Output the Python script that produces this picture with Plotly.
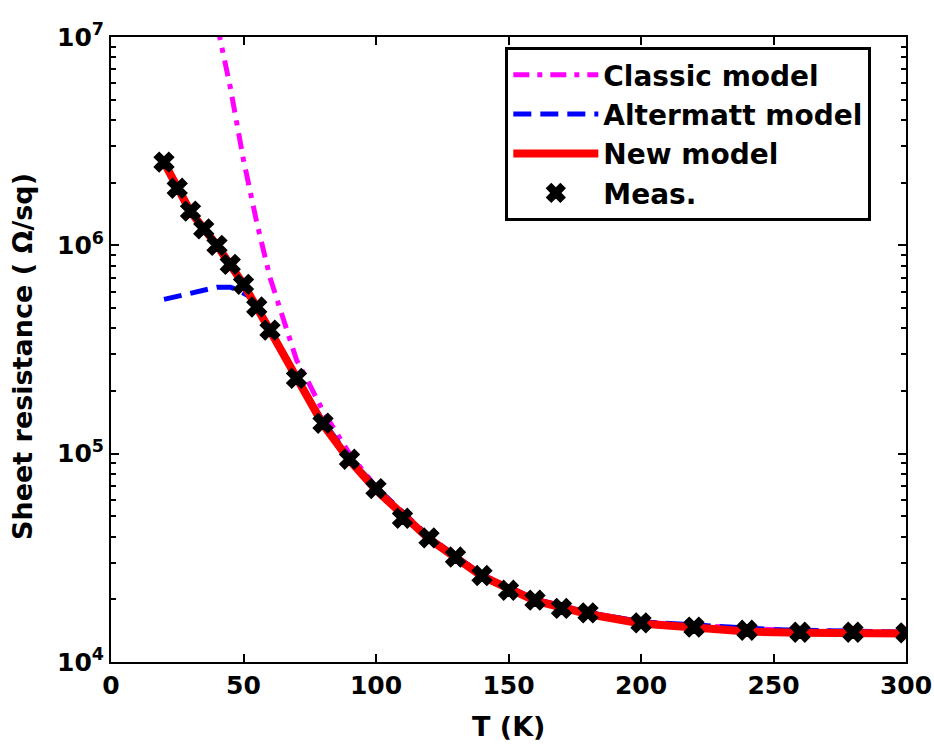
import plotly.graph_objects as go

# ---- data ----
T_meas = [20, 25, 30, 35, 40, 45, 50, 55, 60, 70, 80, 90, 100, 110, 120, 130, 140,
          150, 160, 170, 180, 200, 220, 240, 260, 280, 300]
R_meas = [2.51e6, 1.88e6, 1.46e6, 1.2e6, 1.0e6, 8.1e5, 6.5e5, 5.06e5, 3.92e5, 2.3e5,
          1.4e5, 9.4e4, 6.8e4, 4.9e4, 3.94e4, 3.19e4, 2.6e4, 2.21e4, 1.98e4, 1.81e4,
          1.72e4, 1.54e4, 1.47e4, 1.42e4, 1.39e4, 1.39e4, 1.38e4]

T_new = [20, 30, 40, 50, 60, 70, 80, 90, 100, 120, 140, 160, 180, 200, 220, 240, 260, 280, 300]
R_new = [2.5e6, 1.45e6, 1.0e6, 6.5e5, 3.9e5, 2.28e5, 1.38e5, 9.3e4, 6.7e4, 3.9e4, 2.58e4,
         1.97e4, 1.7e4, 1.53e4, 1.45e4, 1.4e4, 1.38e4, 1.37e4, 1.37e4]

T_alt = [20, 25, 30, 35, 40, 45, 48, 52, 55, 60, 70, 80, 90, 100, 120, 140, 160, 180, 200, 250, 300]
R_alt = [5.5e5, 5.7e5, 5.9e5, 6.1e5, 6.3e5, 6.3e5, 6.1e5, 5.7e5, 5.1e5, 4.0e5, 2.35e5, 1.43e5,
         9.6e4, 6.9e4, 4.0e4, 2.62e4, 2.0e4, 1.73e4, 1.56e4, 1.43e4, 1.39e4]

T_cls = [40, 41, 45, 50, 55, 60, 65, 70, 75, 80, 90, 100, 110, 120, 140, 160, 180, 200, 250, 300]
R_cls = [1.15e7, 1.0e7, 5.75e6, 2.57e6, 1.29e6, 7.0e5, 4.37e5, 2.82e5, 2.14e5, 1.6e5, 1.0e5,
         6.92e4, 5.01e4, 3.98e4, 2.63e4, 2.0e4, 1.74e4, 1.55e4, 1.43e4, 1.38e4]

x_ticks = [0, 50, 100, 150, 200, 250, 300]
y_ticks = [1e4, 1e5, 1e6, 1e7]
y_ticktext = ["10<sup>4</sup>", "10<sup>5</sup>", "10<sup>6</sup>", "10<sup>7</sup>"]
y_minor_ticks = [m * d for d in (1e4, 1e5, 1e6) for m in range(2, 10)]

x_title = "T (K)"
y_title = "Sheet resistance ( Ω/sq)"

FONT = "DejaVu Sans, Liberation Sans, Arial, sans-serif"

fig = go.Figure()
fig.add_trace(go.Scatter(x=T_cls, y=R_cls, mode="lines", name="Classic model",
                         line=dict(color="#ff00ff", width=5, dash="16px,8px,5px,8px")))
fig.add_trace(go.Scatter(x=T_alt, y=R_alt, mode="lines", name="Altermatt model",
                         line=dict(color="#0000ff", width=5, dash="18px,9px")))
fig.add_trace(go.Scatter(x=T_new, y=R_new, mode="lines", name="New model",
                         line=dict(color="#ff0000", width=8)))
fig.add_trace(go.Scatter(x=T_meas, y=R_meas, mode="markers", name="Meas.",
                         marker=dict(symbol="x", size=17, color="black",
                                     line=dict(width=1.5, color="black"))))

fig.update_layout(
    width=934, height=748,
    margin=dict(l=111, r=28, t=37, b=86, autoexpand=False),
    paper_bgcolor="white", plot_bgcolor="white",
    font=dict(family=FONT, color="black"),
    legend=dict(x=0.496, y=0.984, xanchor="left", yanchor="top",
                bgcolor="white", bordercolor="black", borderwidth=3,
                font=dict(family=FONT, size=28, color="black", weight="bold"),
                itemwidth=85, tracegroupgap=0),
    showlegend=True,
)
fig.update_xaxes(
    range=[0, 300], tickvals=x_ticks, ticks="inside", ticklen=8, tickwidth=2,
    tickcolor="black", automargin=False,
    showline=True, linecolor="black", linewidth=2, mirror="ticks",
    showgrid=False, zeroline=False,
    tickfont=dict(family=FONT, size=25, weight="bold"),
)
fig.update_yaxes(
    type="log", range=[4, 7], tickvals=y_ticks, ticktext=y_ticktext,
    ticks="inside", ticklen=8, tickwidth=2, tickcolor="black", automargin=False,
    minor=dict(tickmode="array", tickvals=y_minor_ticks, ticks="inside", ticklen=5,
               tickwidth=1.5, tickcolor="black", showgrid=False),
    showline=True, linecolor="black", linewidth=2, mirror="ticks",
    showgrid=False, zeroline=False,
    tickfont=dict(family=FONT, size=25, weight="bold"),
)
fig.add_annotation(text=x_title, xref="paper", yref="paper", x=0.5, y=-(726 - 662) / 625,
                   xanchor="center", yanchor="middle", showarrow=False,
                   font=dict(family=FONT, size=27, weight="bold", color="black"))
fig.add_annotation(text=y_title, xref="paper", yref="paper", x=-(111 - 22) / 795,
                   y=(662 - 357) / 625, xanchor="center", yanchor="middle",
                   textangle=-90, showarrow=False,
                   font=dict(family=FONT, size=27, weight="bold", color="black"))

fig.write_html("out.html")
